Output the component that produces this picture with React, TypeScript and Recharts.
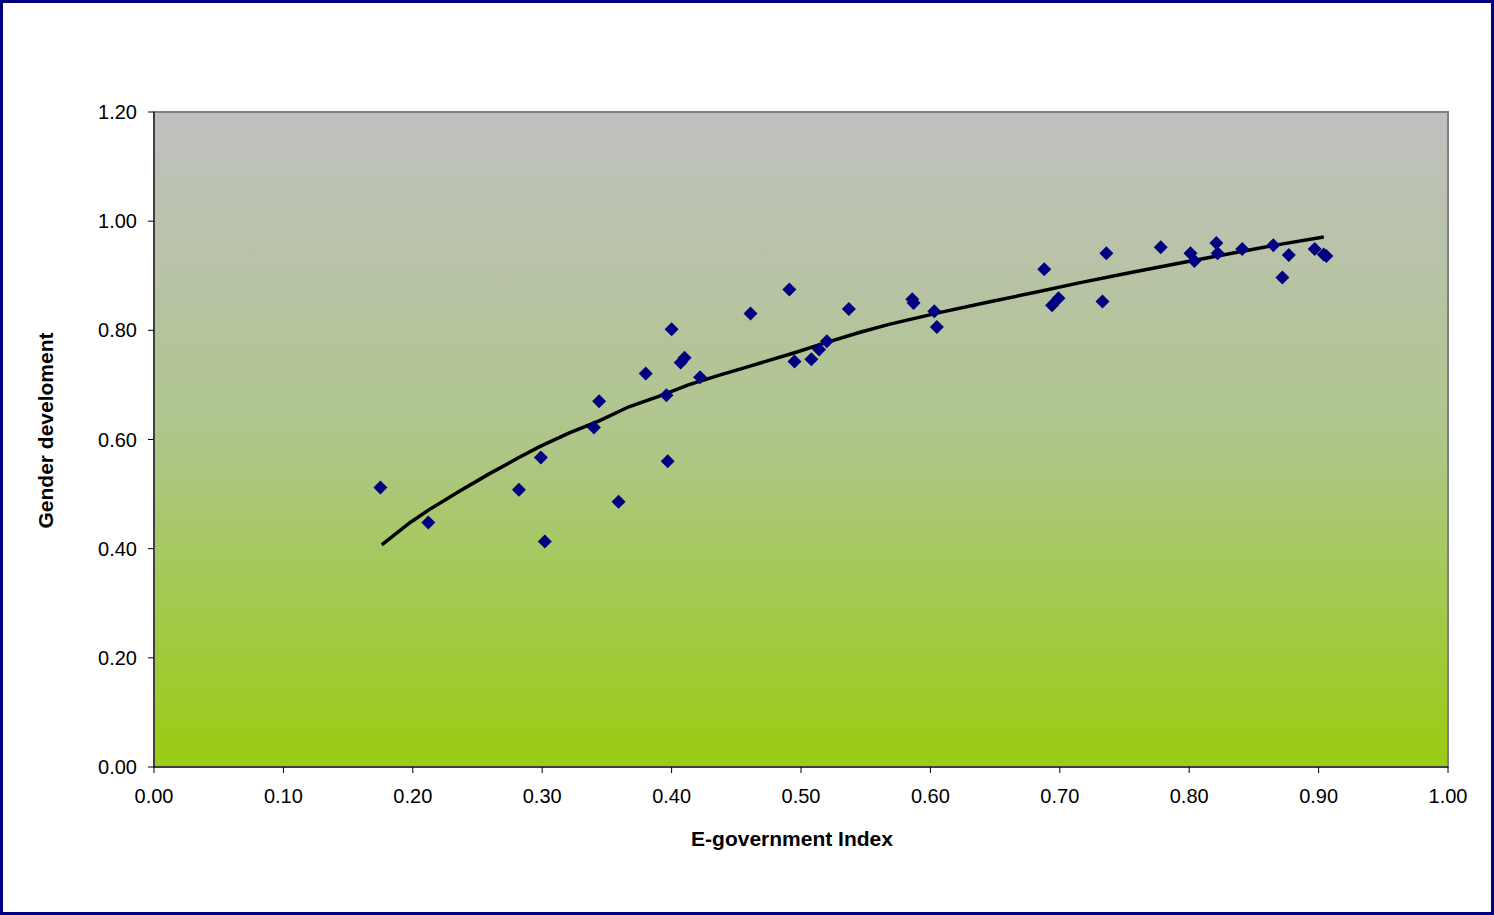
import { ScatterChart, Scatter, XAxis, YAxis, ReferenceArea } from 'recharts';

// e-government index vs gender development
const egovIndex = [
  0.175, 0.212, 0.282, 0.299, 0.302, 0.340, 0.344, 0.359, 0.380, 0.396, 0.397,
  0.400, 0.407, 0.410, 0.422, 0.461, 0.491, 0.495, 0.508, 0.514, 0.520, 0.537,
  0.586, 0.587, 0.603, 0.605, 0.688, 0.694, 0.699, 0.733, 0.736, 0.778, 0.801,
  0.804, 0.821, 0.822, 0.841, 0.865, 0.872, 0.877, 0.897, 0.904, 0.906,
];
const genderDev = [
  0.512, 0.448, 0.508, 0.567, 0.413, 0.622, 0.670, 0.486, 0.721, 0.681, 0.560,
  0.802, 0.741, 0.750, 0.714, 0.831, 0.875, 0.743, 0.747, 0.765, 0.780, 0.839,
  0.857, 0.850, 0.835, 0.806, 0.912, 0.846, 0.859, 0.853, 0.941, 0.952, 0.941,
  0.927, 0.960, 0.941, 0.949, 0.956, 0.897, 0.938, 0.949, 0.939, 0.936,
];

// trend line
const trendX = [
  0.176, 0.198, 0.213, 0.236, 0.259, 0.282, 0.298, 0.321, 0.344, 0.367, 0.390,
  0.413, 0.437, 0.460, 0.495, 0.520, 0.545, 0.568, 0.606, 0.645, 0.684, 0.715,
  0.753, 0.792, 0.830, 0.869, 0.904,
];
const trendY = [
  0.407, 0.448, 0.472, 0.505, 0.537, 0.567, 0.587, 0.612, 0.634, 0.660, 0.679,
  0.700, 0.718, 0.734, 0.759, 0.778, 0.796, 0.811, 0.832, 0.852, 0.871, 0.887,
  0.905, 0.923, 0.940, 0.957, 0.971,
];

const xTicks = [0, 0.1, 0.2, 0.3, 0.4, 0.5, 0.6, 0.7, 0.8, 0.9, 1.0];
const yTicks = [0, 0.2, 0.4, 0.6, 0.8, 1.0, 1.2];

const points = egovIndex.map((x, i) => ({ x, y: genderDev[i] }));
const trend = trendX.map((x, i) => ({ x, y: trendY[i] }));

const font = 'Arial, "Liberation Sans", sans-serif';

const Diamond = (props: any) => {
  const { cx, cy } = props;
  const r = 7;
  return (
    <polygon
      points={`${cx},${cy - r} ${cx + r},${cy} ${cx},${cy + r} ${cx - r},${cy}`}
      fill="#000080"
    />
  );
};

export default function App() {
  return (
    <div
      style={{
        position: 'absolute',
        left: 0,
        top: 0,
        width: 1494,
        height: 915,
        boxSizing: 'border-box',
        border: '3px solid #000080',
        background: '#fff',
      }}
    >
      <ScatterChart
        width={1488}
        height={909}
        margin={{ top: 109, right: 43, bottom: 65, left: 71 }}
      >
        <defs>
          <linearGradient id="plotBg" x1="0" y1="0" x2="0" y2="1">
            <stop offset="0%" stopColor="#C0C0C0" />
            <stop offset="50%" stopColor="#AFC68A" />
            <stop offset="100%" stopColor="#99CC11" />
          </linearGradient>
        </defs>
        <XAxis
          type="number"
          dataKey="x"
          domain={[0, 1]}
          ticks={xTicks}
          tickFormatter={(v) => v.toFixed(2)}
          height={80}
          stroke="#000"
          tickSize={6}
          tickMargin={16}
          tick={{ fill: '#000', fontSize: 20, fontFamily: font }}
          label={{
            value: 'E-government Index',
            position: 'insideBottom',
            offset: 1,
            dx: -9,
            style: { fontSize: 21, fontWeight: 'bold', fontFamily: font, fill: '#000' },
          }}
        />
        <YAxis
          type="number"
          dataKey="y"
          domain={[0, 1.2]}
          ticks={yTicks}
          tickFormatter={(v) => v.toFixed(2)}
          width={80}
          stroke="#000"
          tickSize={6}
          tickMargin={11}
          tick={{ fill: '#000', fontSize: 20, fontFamily: font }}
          label={{
            value: 'Gender develoment',
            angle: -90,
            position: 'insideLeft',
            offset: -28,
            dy: -9,
            style: {
              fontSize: 21,
              fontWeight: 'bold',
              fontFamily: font,
              fill: '#000',
              textAnchor: 'middle',
            },
          }}
        />
        <ReferenceArea
          x1={0}
          x2={1}
          y1={0}
          y2={1.2}
          fill="url(#plotBg)"
          fillOpacity={1}
          stroke="#808080"
          strokeWidth={2}
        />
        <Scatter
          data={trend}
          line={{ stroke: '#000', strokeWidth: 3.5 }}
          lineType="joint"
          shape={() => <g />}
          isAnimationActive={false}
        />
        <Scatter data={points} shape={Diamond} isAnimationActive={false} />
      </ScatterChart>
    </div>
  );
}
